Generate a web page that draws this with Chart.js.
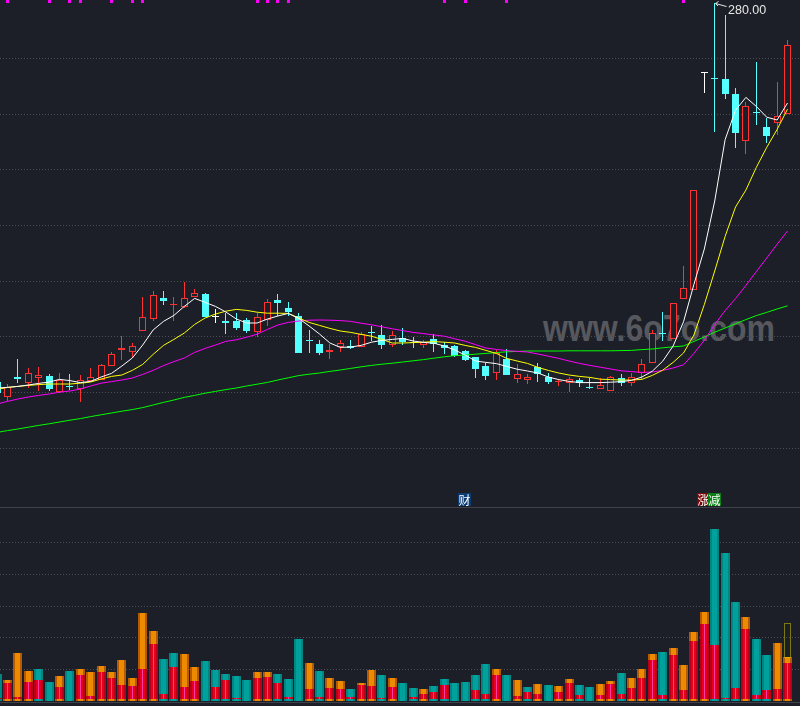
<!DOCTYPE html>
<html><head><meta charset="utf-8">
<script src="https://cdn.jsdelivr.net/npm/chart.js@4.4.0/dist/chart.umd.min.js"></script>
<style>
html,body{margin:0;padding:0;background:#1c1f28;}
#wrap{position:relative;width:800px;height:706px;overflow:hidden;background:#1c1f28;}
#wm{position:absolute;left:543px;top:311px;font:bold 36px/36px "Liberation Sans";color:#56585e;white-space:nowrap;transform-origin:0 0;transform:scaleX(0.89);}
#mainBox{position:absolute;left:0;top:0;width:800px;height:507px;}
#sep{position:absolute;left:0;top:507px;width:800px;height:1px;background:#3f424a;}
#volBox{position:absolute;left:0;top:508px;width:800px;height:193px;}
#bot{position:absolute;left:0;top:702px;width:800px;height:1px;background:#3f424a;}
.tag{position:absolute;top:493px;width:13px;height:13px;font:12px/13px "Noto Sans CJK SC";color:#fff;text-align:center;}
#hi{position:absolute;font:12.5px/12.5px "Liberation Sans";color:#e8e8e8;white-space:nowrap;}
</style></head>
<body><div id="wrap">
<div id="wm">www.6o7o.com</div>
<div id="mainBox"><canvas id="mainC"></canvas></div>
<div id="sep"></div>
<div id="volBox"><canvas id="volC"></canvas></div>
<div id="bot"></div>
<div id="hi"></div>
</div>
<script>
// ---------- data ----------
const days = [0,1,2,3,4,5,6,7,8,9,10,11,12,13,14,15,16,17,18,19,20,21,22,23,24,25,26,27,28,29,30,31,32,33,34,35,36,37,38,39,40,41,42,43,44,45,46,47,48,49,50,51,52,53,54,55,56,57,58,59,60,61,62,63,64,65,66,67,68,69,70,71,72,73,74,75,76];
const opens = [90.5,83.2,92.9,90.2,92.7,93.5,85.4,88.5,87.2,91.2,
 91.5,98.5,106.7,105.7,116.2,121.9,132.4,128.8,128.2,133.2,
 134.5,123.2,120.9,121,121.5,115.7,121.5,131.5,127.4,123.5,
 111.2,109.5,105.7,108.2,108.5,107.9,115.5,114,109,112.4,
 110.6,109.2,112,109,108.5,106,102.9,98.5,95.2,101.9,
 91.9,91.3,97.9,93,90.4,89.9,91.4,87.5,86.9,86.2,
 92.4,89.9,94.9,99.9,115.2,111.9,131.9,136.5,245,242.5,
 241.9,234.5,210.9,225.5,218.2,220.2,224.4];
const highs = [91.5,89.5,102,97.4,97.9,94.4,94.9,94.4,94,97.4,
 99.5,105.7,113.5,110.2,132.9,136,136,133.2,140.7,136.9,
 135.2,126.9,124.9,124.9,122.5,124.9,132,134.5,130.4,124.9,
 116.5,111.5,109.5,111.5,111.5,115.5,118.7,119,116.2,117.4,
 112.9,111.5,114.5,110.5,109,106.5,103.2,99.9,106.5,106.9,
 99.5,94.5,99.9,95.2,91.9,93.2,92.4,92.4,92.7,93.5,
 94.6,95,101.9,116.5,125.4,130,148.5,186.6,245,280,
 274,237.4,230.7,250.7,222.4,240.7,261.5];
const lows = [84,81.2,90,87.5,86.2,86.2,85,86.5,80.7,90.7,
 91.3,98.3,101.5,102.4,116,121.2,129,121.2,127.4,133,
 123,120.2,114.5,116.5,115.2,113.2,118.7,123.5,123.5,105,
 105.2,104,102.2,105.7,106.9,107.8,111.2,106.9,108.2,109,
 107.7,107.4,105.5,104.5,103,101,92.4,91.3,91.5,94,
 90,89.4,90.4,89.5,88.5,85.7,87.9,87.2,86.8,86,
 88.5,88.5,92,99.8,111,111.8,131.8,136.4,235,215.7,
 231.9,207.7,204.4,219,209.9,214,224.3];
const closes = [85,88.2,92.2,94.9,93.9,86.9,91.5,87.9,91.5,92.9,
 98.9,104.5,107.5,108.5,122.9,134,131,129,132.4,134.9,
 123.2,123.2,120.2,117.4,116.2,122.9,130.4,130.2,125.7,105.2,
 110.8,105.2,106.5,109.9,107.7,114.5,114.9,109,114,110.3,
 110.0,110.4,109.3,107.3,103.5,101.5,96.8,93.7,105,94.2,
 94.6,92.8,94.4,90.7,90.8,91.9,89.8,87.3,89,93,
 89.9,92.9,99.4,114.9,114.6,129.9,137.4,186.5,245,242,
 234.7,215.2,228.5,225.2,213.5,223.5,259];
const ma5 = [87.5,87.8,88.3,89,89.8,90.5,91.8,91.2,90.2,90.8,
 93,94.8,98.5,102.5,109,116.5,120.8,123.8,128.3,132.3,
 130.3,128.3,125.5,122,120,120,122,123.5,124.8,122.3,
 118.5,114.5,110,107.8,108,108.8,110.4,111.3,111.8,112.3,
 111,110.3,109.9,108.5,106.5,104,101,100.3,99.7,98.3,
 96.9,96,95,93,91.7,90.8,90.2,90.2,90.2,90.4,
 90.7,91.3,93,95.9,100.9,108.5,120.6,139.3,157,181,
 211.7,226.4,232.8,228.3,222.9,221.5,230];
const ma10 = [86.8,87.8,88.3,88.8,89.2,89.5,89.5,89.5,89.9,90.5,
 92,93.3,94,96.3,99.3,104.3,108.8,111.8,115,119.3,
 122.5,124.5,125.9,126.8,126.3,125.4,124.9,124.9,124.8,122.5,
 120.3,118.8,117.3,116,115.3,114.3,113.4,111.8,110,110,
 110.2,110.4,110.7,110.4,110,108.8,107.8,106.3,104.8,102.3,
 101,99.8,97.8,96.3,95,94,93.3,92.8,91.9,91.7,
 91.5,91.5,91.8,93.8,96.4,100.3,105,114,129.2,146,
 163.3,178,186.5,197.8,207.8,216.8,226.9];
const ma20 = [79.5,80.8,82,83,83.8,84.5,85.4,86,87,88.5,
 89.9,90.7,91.5,92.5,94.3,96.3,98.7,100.7,102.5,105.3,
 107.3,109,110.8,111.6,112.9,114.4,116.8,119,120.3,121,
 121.4,121.5,121.4,121.2,120.8,119.9,119.1,118.1,117.1,116.2,
 115.3,114.7,114,113.4,112.1,110.9,109.2,107.5,106.8,106.2,
 105.8,105.5,104.5,103.4,102.3,101,99.8,98.8,97.9,97,
 96.1,95.7,95.3,95.5,96.3,97.5,99.1,104.8,111.4,119.2,
 126.2,132.2,138.8,145.7,152.5,159.4,166];
const ma60 = [65.3,66.2,67,67.9,68.8,69.6,70.5,71.4,72.2,73.2,
 74.1,75,75.9,76.7,77.7,79,80.3,81.5,82.8,83.8,
 84.9,85.8,86.7,87.5,88.5,89.4,90.3,91.5,92.6,93.7,
 94.4,95,95.8,96.5,97.3,98.1,98.8,99.4,99.9,100.5,
 101.1,101.7,102.4,103.1,103.7,104,104.4,104.8,105.2,105.6,
 105.8,106,106,106,106,106.1,106.1,106.1,106.1,106.1,
 106.2,106.3,106.7,107,107.6,108.1,108.5,110.8,113,115.4,
 117.5,119.6,121.7,123.7,125.3,127,128.6];
const volumes = [13.5,10.5,24,15,16,9.5,12.5,15,16,14.5,
 17.5,14.5,20.5,11.5,44,35,21,24,23.5,17,
 20,15.5,13.5,12.5,10.5,14.5,14.5,13.5,11,31,
 19,15,11.5,10,6,9,15.5,13,11.5,9,
 6.5,6,7.5,11,9,9.5,13,18.5,16,13,
 10.5,7,8.5,8,7.5,11,8,7,8.5,10,
 14,11.5,16,23.5,24.5,26.5,18,34.5,44.5,86,
 74,49.5,42,31,23,29,22];
const redVolumes = [1.4,9,2,9.5,10.5,1,7,1,13,2.5,
 14.5,11.5,8,7.5,16,28.5,3.5,17,7,10,
 0,7,10.5,1.5,1,11.5,12,9,2,0,
 6,2,6.5,6,2,8,7.5,1.5,7,1,
 2,3.5,4.5,8,1,1,5.5,3.5,13,0,
 2.5,4.5,3.5,1,4.5,9,3,1,3,8.5,
 3.5,6.5,11.5,20.5,3,23,5.5,30,38.5,28,
 1.5,6.5,36,3,5.5,6,19];
const volEstimate = 39;
const markDays = [1,5,7,8,11,13,14,25,26,27,28,43,45,49,66];
const tagDays = [45,68,69];
const tagTexts = ['财','涨','减'];
const tagColors = ['#0b3c74','#7d0a0a','#0a7d14'];
const gridPrices = [252.35,224.5,196.65,168.8,140.95,113.1,85.25,57.4];
const gridVolumes = [15.8,31.6,47.4,63.2,79];

// ---------- style ----------
const BG = '#1c1f28', UP = '#ff3232', DOWN = '#54ffff', FLAT = '#ffffff';
const PRICE_MIN = 28, PRICE_MAX = 281.5, VOL_MAX = 96.5, VOL_BASE = 0.85;
const GRID = '#4a4e57';
const X_MIN = 0.279, X_MAX = 77.2;

function candleColor(i){ return closes[i] > opens[i] ? UP : (closes[i] < opens[i] ? DOWN : FLAT); }
function volUp(i){ return i > 0 && closes[i] > closes[i-1]; }
function maLine(label, vals, color){
  return {type:'line', label, order:0, data: days.map(i => ({x:i, y:vals[i]})),
    borderColor:color, borderWidth:1, pointRadius:0, pointHitRadius:0, tension:0, fill:false};
}
const xScale = () => ({type:'linear', min:X_MIN, max:X_MAX, display:false, offset:false});
function yScale(min, max, grid){
  return {min, max, display:true, ticks:{display:false}, grid:{color:GRID, drawTicks:false, lineWidth:1},
    border:{display:false, dash:[1,2]},
    afterBuildTicks: s => { s.ticks = grid.map(v => ({value:v})); },
    afterFit: s => { s.width = 0; }};
}
let hiIdx = 0; highs.forEach((h,i) => { if (h > highs[hiIdx]) hiIdx = i; });

// snap bar elements to whole pixels so thin wicks and borders stay crisp
const snapPlugin = {id:'snap', beforeDatasetsDraw(chart){
  chart.data.datasets.forEach((ds, di) => {
    const meta = chart.getDatasetMeta(di);
    if (meta.type !== 'bar') return;
    meta.data.forEach(el => {
      if (!isFinite(el.x)) return;
      el.x = Math.floor(el.x) + 0.5;
      if (isFinite(el.y)) el.y = Math.round(el.y);
      if (isFinite(el.base)) el.base = Math.round(el.base);
    });
  });
}};

const hiPlugin = {id:'hi', afterDatasetsDraw(chart){
  const x = Math.floor(chart.scales.x.getPixelForValue(hiIdx)) + 0.5, y = chart.scales.y.getPixelForValue(highs[hiIdx]);
  const c = chart.ctx; c.save(); c.strokeStyle = '#e6e6e6'; c.lineWidth = 1; c.beginPath();
  c.moveTo(x+1, y+0.5); c.lineTo(x+12, y+3.5);
  c.moveTo(x+1, y+0.5); c.lineTo(x+4, y-1.5);
  c.moveTo(x+1, y+0.5); c.lineTo(x+3.5, y+3);
  c.stroke(); c.restore();
}};

const common = {responsive:true, maintainAspectRatio:false, animation:false, events:[],
  devicePixelRatio:1, layout:{padding:0, autoPadding:false},
  plugins:{legend:{display:false}, tooltip:{enabled:false}}};

const mainChart = new Chart(document.getElementById('mainC'), {
  type:'bar',
  data:{datasets:[
    maLine('MA5', ma5, '#ffffff'), maLine('MA10', ma10, '#ffff00'),
    maLine('MA20', ma20, '#ff00ff'), maLine('MA60', ma60, '#00ff00'),
    {type:'bar', label:'body', order:1, data: days.map(i => ({x:i, y:[opens[i], closes[i]]})),
      barThickness:7, grouped:false, minBarLength:1, inflateAmount:0, borderSkipped:false,
      backgroundColor: c => closes[c.dataIndex] > opens[c.dataIndex] ? BG : candleColor(c.dataIndex),
      borderColor: c => candleColor(c.dataIndex),
      borderWidth: c => closes[c.dataIndex] > opens[c.dataIndex] ? 1 : 0},
    {type:'bar', label:'wick', order:2, data: days.map(i => ({x:i, y:[lows[i], highs[i]]})),
      barThickness:1, grouped:false, inflateAmount:0, borderWidth:0,
      backgroundColor: c => candleColor(c.dataIndex)},
    {type:'bar', label:'mark', order:3, data: markDays.map(i => ({x:i, y:[PRICE_MAX-1.5, PRICE_MAX]})),
      barThickness:3, grouped:false, inflateAmount:0, borderWidth:0, backgroundColor:'#ff00ff'}
  ]},
  options:Object.assign({}, common, {scales:{x:xScale(), y:yScale(PRICE_MIN, PRICE_MAX, gridPrices)}}),
  plugins:[snapPlugin, hiPlugin]
});

const estPlugin = {id:'est', afterDatasetsDraw(chart){
  const i = days.length - 1;
  const x = Math.floor(chart.scales.x.getPixelForValue(i)) + 0.5;
  const yT = chart.scales.y.getPixelForValue(volEstimate), yB = chart.scales.y.getPixelForValue(volumes[i]);
  const c = chart.ctx; c.save(); c.strokeStyle = '#d6d600'; c.lineWidth = 1; c.setLineDash([1,1]);
  c.strokeRect(x-3.5+0.5, Math.round(yT)+0.5, 6, Math.round(yB-yT));
  c.restore();
}};

new Chart(document.getElementById('volC'), {
  type:'bar',
  data:{datasets:[
    {label:'redCenter', order:0, data: days.map(i => ({x:i, y: redVolumes[i] > VOL_BASE ? [VOL_BASE, redVolumes[i]] : null})),
      barThickness:1, grouped:false, inflateAmount:0, borderWidth:0, backgroundColor:'#ff3aa0'},
    {label:'red', order:1, data: days.map(i => ({x:i, y: redVolumes[i] > VOL_BASE ? [VOL_BASE, redVolumes[i]] : null})),
      barThickness:9, grouped:false, inflateAmount:0, borderSkipped:false,
      borderWidth:{left:2, right:2, top:0, bottom:0}, backgroundColor:'#e6001c', borderColor:'#b8001a'},
    {label:'volume', order:2, data: days.map(i => ({x:i, y:volumes[i]})),
      barThickness:9, grouped:false, inflateAmount:0, borderSkipped:false,
      borderWidth:{left:2, right:2, top:0, bottom:0},
      backgroundColor: c => volUp(c.dataIndex) ? '#ee8a00' : '#00a09c',
      borderColor: c => volUp(c.dataIndex) ? '#b45a00' : '#008682'}
  ]},
  options:Object.assign({}, common, {scales:{x:xScale(), y:yScale(0, VOL_MAX, gridVolumes)}}),
  plugins:[snapPlugin, estPlugin]
});

// high label
const hx = mainChart.scales.x.getPixelForValue(hiIdx), hy = mainChart.scales.y.getPixelForValue(highs[hiIdx]);
const hiEl = document.getElementById('hi');
hiEl.textContent = highs[hiIdx].toFixed(2);
hiEl.style.left = (Math.floor(hx) + 14) + 'px';
hiEl.style.top = (hy + 0.5) + 'px';

// tags
const wrap = document.getElementById('wrap');
tagDays.forEach((d, k) => {
  const el = document.createElement('div');
  el.className = 'tag'; el.textContent = tagTexts[k]; el.style.background = tagColors[k];
  el.style.left = (Math.round(mainChart.scales.x.getPixelForValue(d)) - 7) + 'px';
  wrap.appendChild(el);
});
</script>
</body></html>
